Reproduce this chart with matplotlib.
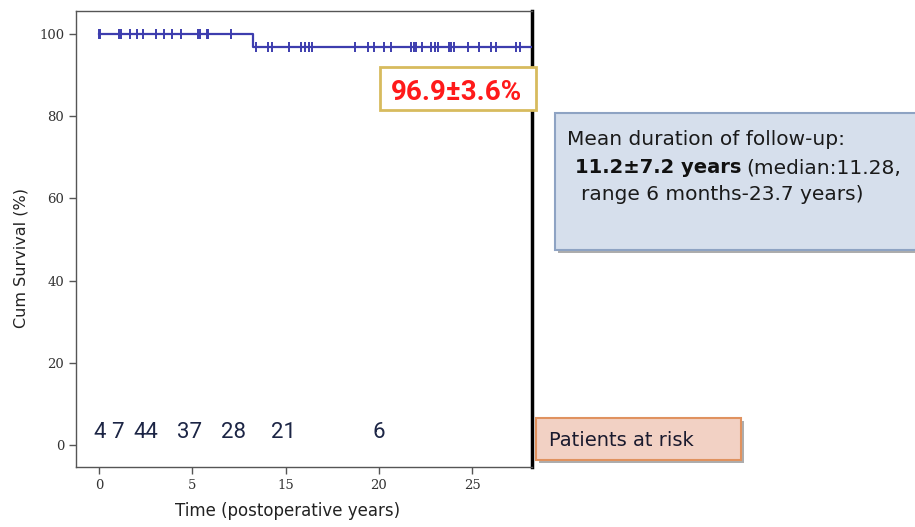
import numpy as np
import matplotlib
matplotlib.use('Agg')
import matplotlib.pyplot as plt
from matplotlib.patches import Rectangle

# Kaplan-Meier curve (time in axis units, survival in %)
event_times = [0.0, 8.26]
event_surv = [100.0, 96.9]
end_time = 23.7

# censored cases (tick marks on the curve)
censor_times = [0.0, 0.03, 1.09, 1.18, 1.66, 2.02, 2.37, 3.04, 3.50, 3.92, 4.37,
                5.32, 5.44, 5.78, 5.85, 7.05,
                8.44, 9.06, 9.25, 10.17, 10.85, 11.03, 11.26, 11.39, 13.70,
                14.42, 14.72, 15.26, 15.67, 16.74, 16.86, 17.01, 17.31, 17.77,
                17.99, 18.16, 18.75, 18.88, 19.00, 19.77, 20.36, 21.02, 21.25,
                22.36, 22.57]

# patients at risk row
risk_labels = ['4', '7', '44', '37', '28', '21', '6']
risk_times = [0.05, 0.99, 2.49, 4.87, 7.23, 9.9, 14.99]

x_ticks = [0, 5, 10, 15, 20]
x_tick_labels = ['0', '5', '15', '20', '25']
y_ticks = [0, 20, 40, 60, 80, 100]

W, H = 915, 527
line_col = '#3d3dae'
narrow = ['Roboto', 'DejaVu Sans']


def fx(px):
    return px / W


def fy(py):
    return 1 - py / H


fig = plt.figure(figsize=(W / 100, H / 100), dpi=100)
ax = fig.add_axes([fx(76), fy(467), fx(532) - fx(76), fy(11) - fy(467)])

# survival step line
t_line = event_times + [end_time]
s_line = event_surv + [event_surv[-1]]
ax.plot(t_line, s_line, drawstyle='steps-post', color=line_col, lw=1.6, zorder=3)

# censor marks sit on the curve
idx = np.searchsorted(event_times, censor_times, side='right') - 1
censor_surv = np.array(event_surv)[idx]
ax.plot(censor_times, censor_surv, ls='none', marker='|', ms=6.5, mew=1.4,
        color=line_col, zorder=4)

for lab, t in zip(risk_labels, risk_times):
    ax.text(t, 1.6, lab, ha='center', va='baseline', fontsize=16,
            family=narrow, color='#1c2545')

ax.set_xlim(-1.23, 23.2)
ax.set_ylim(-5.35, 105.6)
ax.set_xticks(x_ticks)
ax.set_xticklabels(x_tick_labels)
ax.set_yticks(y_ticks)
ax.tick_params(direction='out', length=5, width=1, color='#555555',
               labelcolor='#333333', labelsize=9.5)
for lab in ax.get_xticklabels() + ax.get_yticklabels():
    lab.set_family('DejaVu Serif')
for side in ['left', 'bottom', 'top']:
    ax.spines[side].set_color('#555555')
    ax.spines[side].set_linewidth(1)
ax.spines['right'].set_color('black')
ax.spines['right'].set_linewidth(2.5)

ax.set_xlabel('Time (postoperative years)', fontsize=12, color='#222222')
ax.set_ylabel('Cum Survival (%)', fontsize=11.5, color='#222222')
ax.xaxis.set_label_coords(0.463, -0.077)
ax.yaxis.set_label_coords(-0.105, 0.458)


def box(x0, y0, x1, y1, fc, ec, lw, shadow=True):
    if shadow:
        fig.add_artist(Rectangle((fx(x0 + 3), fy(y1 + 3)), fx(x1) - fx(x0), fy(y0) - fy(y1),
                                 transform=fig.transFigure, fc='#8a8a8a', ec='none',
                                 alpha=0.7, zorder=1))
    fig.add_artist(Rectangle((fx(x0), fy(y1)), fx(x1) - fx(x0), fy(y0) - fy(y1),
                             transform=fig.transFigure, fc=fc, ec=ec, lw=lw, zorder=2))


# survival estimate box
box(379.5, 67, 536, 110, 'white', '#d7bb5e', 2, shadow=False)
fig.text(fx(391), fy(100), '96.9\u00b13.6%', fontsize=20, weight='bold',
         family=narrow, color='#ff1a1a', ha='left', va='baseline', zorder=5)

# follow-up box
box(555, 113, 925, 250, '#d6dfec', '#8ea3c3', 1.5)
fs = 14.5
fig.text(fx(567), fy(145), 'Mean duration of follow-up:', fontsize=fs,
         color='#1a1a1a', ha='left', va='baseline', zorder=5)
bold_part = fig.text(fx(575), fy(173), '11.2\u00b17.2 years', fontsize=fs - 0.5,
                     weight='bold', color='#111111', ha='left', va='baseline', zorder=5)
fig.canvas.draw()
bb = bold_part.get_window_extent(fig.canvas.get_renderer())
fig.text(fx(bb.x1 + 5), fy(173), '(median:11.28,', fontsize=fs,
         color='#1a1a1a', ha='left', va='baseline', zorder=5)
fig.text(fx(581), fy(200), 'range 6 months-23.7 years)', fontsize=fs,
         color='#1a1a1a', ha='left', va='baseline', zorder=5)

# patients at risk label
box(536, 418, 741, 460, '#f2d1c4', '#e0925f', 1.5)
fig.text(fx(549), fy(446.5), 'Patients at risk', fontsize=14,
         color='#1a1a2e', ha='left', va='baseline', zorder=5)

fig.savefig('out.png', dpi=100)
